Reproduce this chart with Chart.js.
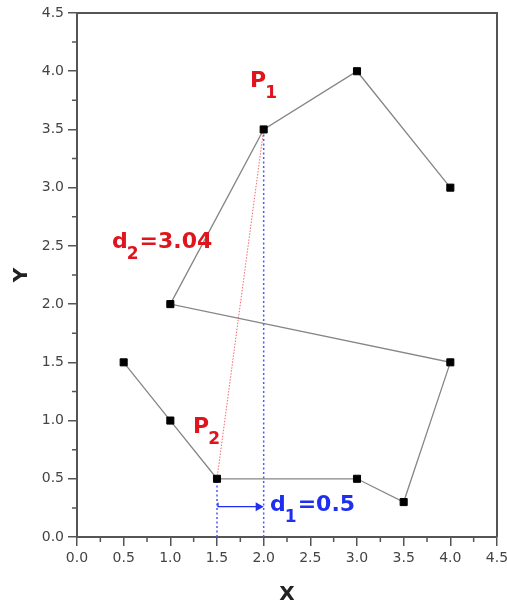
<!DOCTYPE html>
<html>
<head>
<meta charset="utf-8">
<script src="https://cdn.jsdelivr.net/npm/chart.js@4"></script>
<style>
  html, body { margin: 0; padding: 0; background: #fff; }
  #wrap { width: 507px; height: 610px; }
</style>
</head>
<body>
<div id="wrap"><canvas id="pathChart" width="507" height="610"></canvas></div>
<script>
// -------------------------
// DATA
// -------------------------

const pathX = [0.5, 1, 1.5, 3, 3.5, 4, 1, 2, 3, 4];
const pathY = [1.5, 1, 0.5, 0.5, 0.3, 1.5, 2, 3.5, 4, 3];

// guide lines between P2 (1.5, 0.5) and P1 (2, 3.5)
const p1 = [2, 3.5];
const p2 = [1.5, 0.5];
const arrowY = 0.26;

const axisMin = 0;
const axisMax = 4.5;
const majorStep = 0.5;

// text labels: [x, y, main, subscript, rest, color]
const labels = [
    [1.854, 3.866, "P", "1", "", "#e0141c"],
    [1.243, 0.893, "P", "2", "", "#e0141c"],
    [0.375, 2.483, "d", "2", "=3.04", "#e0141c"],
    [2.069, 0.223, "d", "1", "=0.5", "#1f2ff0"]
];

// -------------------------
// PLUGIN: frame, minor ticks, guides, labels
// -------------------------

const extras = {
    id: 'extras',
    beforeDatasetsDraw(chart) {
        const ctx = chart.ctx;
        const xs = chart.scales.x, ys = chart.scales.y;
        const px = v => xs.getPixelForValue(v);
        const py = v => ys.getPixelForValue(v);
        ctx.save();

        // red dotted distance d2
        ctx.strokeStyle = "#f25a5a";
        ctx.lineWidth = 0.9;
        ctx.setLineDash([1.5, 1.5]);
        ctx.beginPath();
        ctx.moveTo(px(p2[0]), py(p2[1]));
        ctx.lineTo(px(p1[0]), py(p1[1]));
        ctx.stroke();

        // blue dotted verticals
        ctx.strokeStyle = "#4f55ff";
        ctx.lineWidth = 1.5;
        ctx.setLineDash([2, 2.5]);
        ctx.beginPath();
        ctx.moveTo(px(p2[0]), py(0));
        ctx.lineTo(px(p2[0]), py(p2[1]));
        ctx.moveTo(px(p1[0]), py(0));
        ctx.lineTo(px(p1[0]), py(p1[1]));
        ctx.stroke();
        ctx.setLineDash([]);

        // arrow d1
        const ax0 = px(p2[0]) + 1, ax1 = px(p1[0]), ay = py(arrowY);
        ctx.strokeStyle = "#1f2ff0";
        ctx.fillStyle = "#1f2ff0";
        ctx.lineWidth = 1.3;
        ctx.beginPath();
        ctx.moveTo(ax0, ay - 4);
        ctx.lineTo(ax0, ay);
        ctx.lineTo(ax1 - 6, ay);
        ctx.stroke();
        ctx.beginPath();
        ctx.moveTo(ax1, ay);
        ctx.lineTo(ax1 - 8, ay - 4.5);
        ctx.lineTo(ax1 - 8, ay + 4.5);
        ctx.closePath();
        ctx.fill();
        ctx.restore();
    },
    afterDraw(chart) {
        const ctx = chart.ctx;
        const a = chart.chartArea;
        const xs = chart.scales.x, ys = chart.scales.y;
        ctx.save();

        // top and right frame
        ctx.strokeStyle = "#555";
        ctx.lineWidth = 2;
        ctx.beginPath();
        ctx.moveTo(a.left, a.top);
        ctx.lineTo(a.right, a.top);
        ctx.lineTo(a.right, a.bottom);
        ctx.stroke();

        // minor ticks
        ctx.lineWidth = 1.5;
        ctx.beginPath();
        for (let v = axisMin + majorStep / 2; v < axisMax; v += majorStep) {
            const x = xs.getPixelForValue(v);
            ctx.moveTo(x, a.bottom);
            ctx.lineTo(x, a.bottom + 5);
            const y = ys.getPixelForValue(v);
            ctx.moveTo(a.left, y);
            ctx.lineTo(a.left - 5, y);
        }
        ctx.stroke();

        // axis titles
        ctx.fillStyle = "#222";
        ctx.font = "bold 20px 'DejaVu Sans'";
        ctx.textAlign = "center";
        ctx.textBaseline = "middle";
        ctx.fillText("X", (a.left + a.right) / 2, 595);
        ctx.translate(22, (a.top + a.bottom) / 2);
        ctx.rotate(-Math.PI / 2);
        ctx.fillText("Y", 0, 0);
        ctx.setTransform(1, 0, 0, 1, 0, 0);

        // annotations with subscripts
        ctx.textAlign = "left";
        ctx.textBaseline = "alphabetic";
        labels.forEach(([lx, ly, main, sub, rest, color]) => {
            let x = xs.getPixelForValue(lx);
            const y = ys.getPixelForValue(ly);
            ctx.fillStyle = color;
            ctx.font = "bold 22px 'DejaVu Sans'";
            ctx.fillText(main, x, y);
            x += ctx.measureText(main).width - 1;
            ctx.font = "bold 17px 'DejaVu Sans'";
            ctx.fillText(sub, x, y + 11);
            x += ctx.measureText(sub).width + 1;
            ctx.font = "bold 22px 'DejaVu Sans'";
            ctx.fillText(rest, x, y);
        });
        ctx.restore();
    }
};

// -------------------------
// CHART
// -------------------------

function renderPathChart() {
    const points = pathX.map((x, i) => ({ x: x, y: pathY[i] }));

    const axis = (fit) => ({
        type: 'linear',
        min: axisMin,
        max: axisMax,
        afterFit: fit,
        grid: {
            drawOnChartArea: false,
            color: "#555",
            lineWidth: 1.5,
            tickLength: 9
        },
        border: { color: "#555", width: 2 },
        ticks: {
            stepSize: majorStep,
            color: "#444",
            padding: 4,
            font: { family: "'DejaVu Sans'", size: 14 },
            callback: v => v.toFixed(1)
        }
    });

    new Chart(document.getElementById("pathChart"), {
        type: 'scatter',
        data: {
            datasets: [{
                data: points,
                showLine: true,
                borderColor: "#858585",
                borderWidth: 1.3,
                pointStyle: 'rect',
                pointRadius: 5,
                pointBorderWidth: 1,
                pointBackgroundColor: "#000",
                pointBorderColor: "#000"
            }]
        },
        options: {
            responsive: false,
            animation: false,
            layout: { padding: { top: 13, right: 10, left: 0, bottom: 0 } },
            plugins: { legend: { display: false }, tooltip: { enabled: false } },
            scales: {
                x: axis(s => { s.height = 73; s.paddingRight = 0; s.paddingLeft = 0; }),
                y: axis(s => { s.width = 77; s.paddingTop = 0; s.paddingBottom = 0; })
            }
        },
        plugins: [extras]
    });
}

renderPathChart();
</script>
</body>
</html>
